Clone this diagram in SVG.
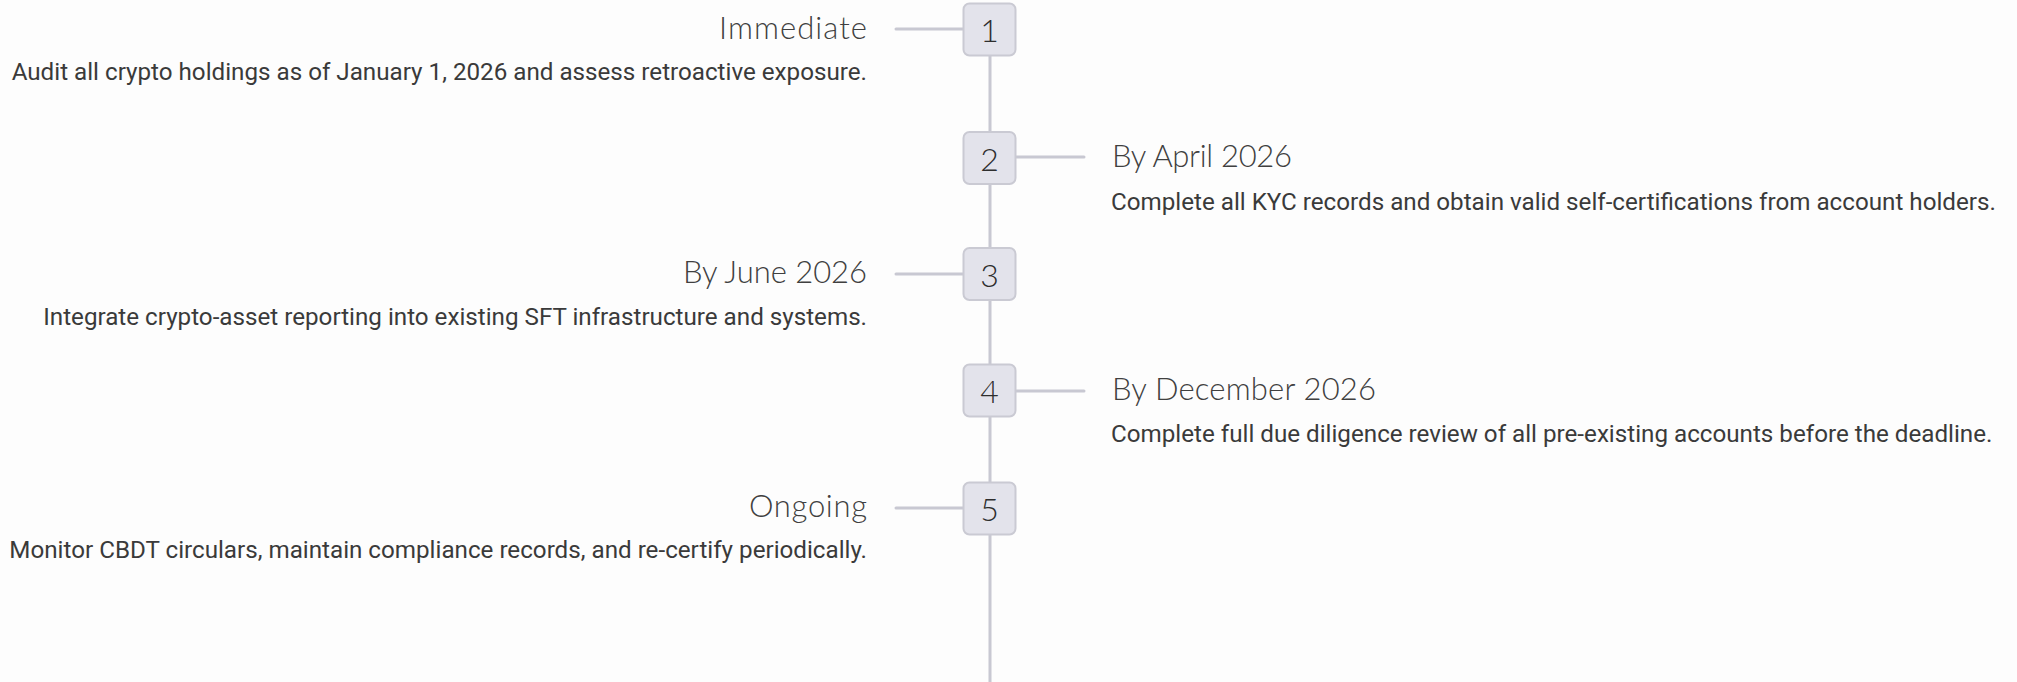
<svg xmlns="http://www.w3.org/2000/svg" width="2017" height="682" viewBox="0 0 2017 682">
<style>
.bg{fill:#fdfdfd}
.line{stroke:#c8c8d2;stroke-width:3;stroke-linecap:round;fill:none}
.box{fill:#e3e3eb;stroke:#cacad3;stroke-width:2}
.num{font-family:Lato,"Open Sans",sans-serif;font-weight:300;font-size:32px;fill:#2e2e2e;text-anchor:middle}
.title{font-family:Lato,"Open Sans",sans-serif;font-weight:300;font-size:31px;fill:#404040}
.desc{font-family:Roboto,"Liberation Sans",sans-serif;font-size:24.2px;fill:#3a3a3a}
.r{text-anchor:end}
</style>
<rect class="bg" x="0" y="0" width="2017" height="682"/>
<g id="connectors">
<line class="line" x1="990" y1="56" x2="990" y2="682"/>
<line class="line" x1="896" y1="29" x2="963" y2="29"/>
<line class="line" x1="1016" y1="157" x2="1084" y2="157"/>
<line class="line" x1="896" y1="274" x2="963" y2="274"/>
<line class="line" x1="1016" y1="391" x2="1084" y2="391"/>
<line class="line" x1="896" y1="508" x2="963" y2="508"/>
</g>
<g id="step1">
<rect class="box" x="963.5" y="3.5" width="52" height="52" rx="6"/>
<text class="num" x="989.5" y="42">1</text>
<text class="title r" x="867" y="38.5" textLength="148" lengthAdjust="spacing">Immediate</text>
<text class="desc r" x="867" y="79.5">Audit all crypto holdings as of January 1, 2026 and assess retroactive exposure.</text>
</g>
<g id="step2">
<rect class="box" x="963.5" y="132" width="52" height="52" rx="6"/>
<text class="num" x="989.5" y="170.5">2</text>
<text class="title" x="1112" y="167" textLength="180" lengthAdjust="spacing">By April 2026</text>
<text class="desc" x="1111" y="209.5">Complete all KYC records and obtain valid self-certifications from account holders.</text>
</g>
<g id="step3">
<rect class="box" x="963.5" y="248" width="52" height="52" rx="6"/>
<text class="num" x="989.5" y="286.5">3</text>
<text class="title r" x="867" y="283" textLength="184" lengthAdjust="spacing">By June 2026</text>
<text class="desc r" x="867" y="324.5">Integrate crypto-asset reporting into existing SFT infrastructure and systems.</text>
</g>
<g id="step4">
<rect class="box" x="963.5" y="364.5" width="52" height="52" rx="6"/>
<text class="num" x="989.5" y="403">4</text>
<text class="title" x="1112" y="400" textLength="264" lengthAdjust="spacing">By December 2026</text>
<text class="desc" x="1111" y="441.5">Complete full due diligence review of all pre-existing accounts before the deadline.</text>
</g>
<g id="step5">
<rect class="box" x="963.5" y="482.5" width="52" height="52" rx="6"/>
<text class="num" x="989.5" y="521">5</text>
<text class="title r" x="867" y="517" textLength="118" lengthAdjust="spacing">Ongoing</text>
<text class="desc r" x="867" y="557.5">Monitor CBDT circulars, maintain compliance records, and re-certify periodically.</text>
</g>
</svg>
